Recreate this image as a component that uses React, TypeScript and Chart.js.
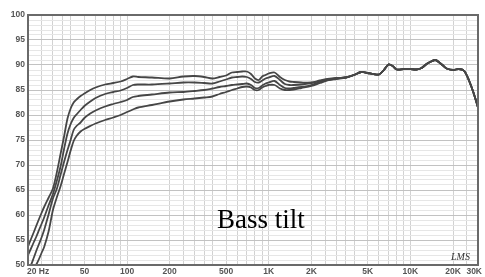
import React, { useEffect, useRef } from 'react';
import { Chart, registerables } from 'chart.js';

Chart.register(...registerables);

// Frequencies (Hz) shared by all four curves
const freqs = [
  20, 21, 22, 23, 24, 25, 26, 28, 30, 32, 34, 36, 38, 40, 42, 44, 47, 50, 55, 60, 70, 80, 90, 100, 110, 120, 150,
  200, 250, 300, 350, 400, 450, 500, 550, 600, 650, 700, 750, 800, 850, 900, 950, 1000, 1100, 1200, 1300, 1400, 1500, 1700, 2000, 2300, 2600, 3000,
  3500, 4000, 4500, 5000, 5500, 6000, 6500, 7000, 7500, 8000, 9000, 10000, 11000, 12000, 13000, 14000, 15000, 16000, 17000, 18000, 20000, 22000, 24000, 26000, 28000, 30000,
];

// Low band (20 - 150 Hz) SPL in dB for each tilt setting
const low1 = [53.7, 55.2, 56.6, 58, 59.3, 60.5, 61.6, 63.5, 65.3, 68.6, 72.3, 75.8, 79.3, 81.3, 82.5, 83.1, 83.8, 84.3, 85, 85.5, 86.1, 86.4, 86.7, 87.2, 87.7, 87.6, 87.5];
const low2 = [52, 53.3, 54.6, 55.8, 57.1, 58.3, 59.5, 62, 64.2, 66.9, 69.8, 73.3, 76.3, 78.2, 79.4, 80.1, 81, 81.8, 82.7, 83.4, 84.2, 84.6, 84.9, 85.4, 86, 86.1, 86.1];
const low3 = [49.2, 50, 51.5, 53, 54.3, 55.6, 57, 60.2, 63.3, 65.3, 68.1, 70.7, 73, 75, 77, 77.8, 78.5, 79.4, 80.3, 80.9, 81.7, 82.2, 82.6, 83, 83.6, 83.8, 84.1];
const low4 = [47.5, 48.3, 49.3, 50.2, 51.3, 52.5, 53.6, 56.8, 61, 63.6, 65.8, 68.3, 70.6, 72.9, 74.8, 75.8, 76.7, 77.2, 77.8, 78.3, 79, 79.5, 80, 80.6, 81.1, 81.5, 82];

// Mid band (200 Hz - 3 kHz)
const mid1 = [87.3, 87.7, 87.8, 87.6, 87.3, 87.6, 87.9, 88.5, 88.6, 88.7, 88.7, 88.2, 87.3, 87.0, 87.7, 88, 88.3, 88.5, 87.6, 87, 86.7, 86.6, 86.5, 86.5, 86.9, 87.2, 87.4];
const mid2 = [86.3, 86.5, 86.5, 86.4, 86.3, 86.7, 87.1, 87.5, 87.6, 87.7, 87.6, 87.2, 86.6, 86.5, 86.9, 87.3, 87.5, 87.8, 87, 86.2, 86, 86, 86.1, 86.4, 86.8, 87.1, 87.3];
const mid3 = [84.5, 84.6, 84.8, 85, 85.3, 85.6, 85.8, 86, 86.1, 86.2, 86.3, 86, 85.4, 85.4, 85.9, 86.3, 86.5, 86.8, 86, 85.4, 85.3, 85.4, 85.6, 86, 86.6, 87, 87.3];
const mid4 = [82.7, 83.1, 83.3, 83.5, 83.7, 84.2, 84.6, 85, 85.3, 85.6, 85.7, 85.5, 85, 85, 85.5, 85.8, 86, 86, 85.3, 85, 85, 85.1, 85.4, 85.8, 86.4, 86.9, 87.2];

// High band (3.5 kHz - 30 kHz), identical for all settings
const highShared = [87.5, 88.0, 88.6, 88.4, 88.2, 88.1, 89.0, 90.1, 89.8, 89.1, 89.2, 89.2, 89.1, 89.4, 90.2, 90.7, 91.0, 90.5, 89.9, 89.3, 89.0, 89.2, 88.8, 86.8, 84.3, 81.5];

const tilt1 = [...low1, ...mid1, ...highShared];
const tilt2 = [...low2, ...mid2, ...highShared];
const tilt3 = [...low3, ...mid3, ...highShared];
const tilt4 = [...low4, ...mid4, ...highShared];

// Axis labels
const xLabelValues = [20, 50, 100, 200, 500, 1000, 2000, 5000, 10000, 20000, 30000];
const xLabelTexts = ['20 Hz', '50', '100', '200', '500', '1K', '2K', '5K', '10K', '20K', '30K'];
const yLabelValues = [50, 55, 60, 65, 70, 75, 80, 85, 90, 95, 100];
const gridMultiples = [1, 2, 2.5, 3, 3.5, 4, 5, 6, 7, 8, 9];
const gridDecades = [10, 100, 1000, 10000];

const X_MIN = 20;
const X_MAX = 30000;
const Y_MIN = 50;
const Y_MAX = 100;

const gridFreqs: number[] = [];
gridDecades.forEach((d) => gridMultiples.forEach((m) => {
  const v = d * m;
  if (v >= X_MIN && v <= X_MAX) gridFreqs.push(v);
}));
if (!gridFreqs.includes(X_MAX)) gridFreqs.push(X_MAX);

const yGrid: number[] = [];
for (let v = Y_MIN; v <= Y_MAX; v += 1) yGrid.push(v);

const LINE_COLOR = '#464646';

const overlayPlugin = {
  id: 'overlay',
  afterDraw(chart: any) {
    const { ctx, chartArea, scales } = chart;
    const xs = scales.x;
    const ys = scales.y;
    ctx.save();
    // frame
    ctx.strokeStyle = '#6a6a6a';
    ctx.lineWidth = 2;
    ctx.strokeRect(chartArea.left, chartArea.top, chartArea.right - chartArea.left, chartArea.bottom - chartArea.top);

    // y labels
    ctx.fillStyle = '#555';
    ctx.font = 'bold 8.5px "Liberation Sans", Arial, sans-serif';
    ctx.textAlign = 'right';
    ctx.textBaseline = 'middle';
    yLabelValues.forEach((v) => {
      ctx.fillText(String(v), chartArea.left - 3, ys.getPixelForValue(v));
    });

    // x labels
    ctx.textBaseline = 'middle';
    xLabelValues.forEach((v, i) => {
      const px = xs.getPixelForValue(v);
      if (i === 0) {
        ctx.textAlign = 'left';
        ctx.fillText(xLabelTexts[i], px - 1, chartArea.bottom + 7);
      } else if (i === xLabelValues.length - 1) {
        ctx.textAlign = 'right';
        ctx.fillText(xLabelTexts[i], px + 4, chartArea.bottom + 7);
      } else {
        ctx.textAlign = 'center';
        ctx.fillText(xLabelTexts[i], px, chartArea.bottom + 7);
      }
    });

    // caption
    ctx.fillStyle = '#000';
    ctx.font = '27px "Liberation Serif", "Times New Roman", serif';
    ctx.textAlign = 'left';
    ctx.textBaseline = 'alphabetic';
    ctx.fillText('Bass tilt', 217, 228);

    // logo
    ctx.fillStyle = '#333';
    ctx.font = 'italic 10px "Liberation Serif", serif';
    ctx.fillText('LMS', 451, 260);
    ctx.restore();
  },
};

export default function App() {
  const canvasRef = useRef<HTMLCanvasElement | null>(null);

  useEffect(() => {
    document.body.style.margin = '0';
    const canvas = canvasRef.current;
    if (!canvas) return;
    const mk = (data: number[]) => ({
      data: freqs.map((f, i) => ({ x: f, y: data[i] })),
      borderColor: LINE_COLOR,
      borderWidth: 1.8,
      pointRadius: 0,
      tension: 0.3,
      fill: false,
    });
    const chart = new Chart(canvas, {
      type: 'line',
      data: {
        datasets: [mk(tilt1), mk(tilt2), mk(tilt3), mk(tilt4)],
      },
      options: {
        animation: false,
        responsive: false,
        maintainAspectRatio: false,
        parsing: false as any,
        layout: { padding: { left: 28, top: 15, right: 7, bottom: 12 } },
        plugins: { legend: { display: false }, tooltip: { enabled: false }, title: { display: false } },
        scales: {
          x: {
            type: 'logarithmic',
            min: X_MIN,
            max: X_MAX,
            afterBuildTicks: (scale: any) => {
              scale.ticks = gridFreqs.map((v) => ({ value: v }));
            },
            ticks: { display: false },
            border: { display: false },
            grid: {
              drawTicks: false,
              color: '#d2d2d2',
              lineWidth: 1,
            },
          },
          y: {
            type: 'linear',
            min: Y_MIN,
            max: Y_MAX,
            afterBuildTicks: (scale: any) => {
              scale.ticks = yGrid.map((v) => ({ value: v }));
            },
            ticks: { display: false },
            border: { display: false },
            grid: {
              drawTicks: false,
              color: (c: any) => (c.tick && c.tick.value % 5 === 0 ? '#c2c2c2' : '#e6e6e6'),
              lineWidth: 1,
            },
          },
        },
      },
      plugins: [overlayPlugin],
    });
    return () => chart.destroy();
  }, []);

  return (
    <div style={{ width: 485, height: 277 }}>
      <canvas ref={canvasRef} width={485} height={277} style={{ display: 'block' }} />
    </div>
  );
}
